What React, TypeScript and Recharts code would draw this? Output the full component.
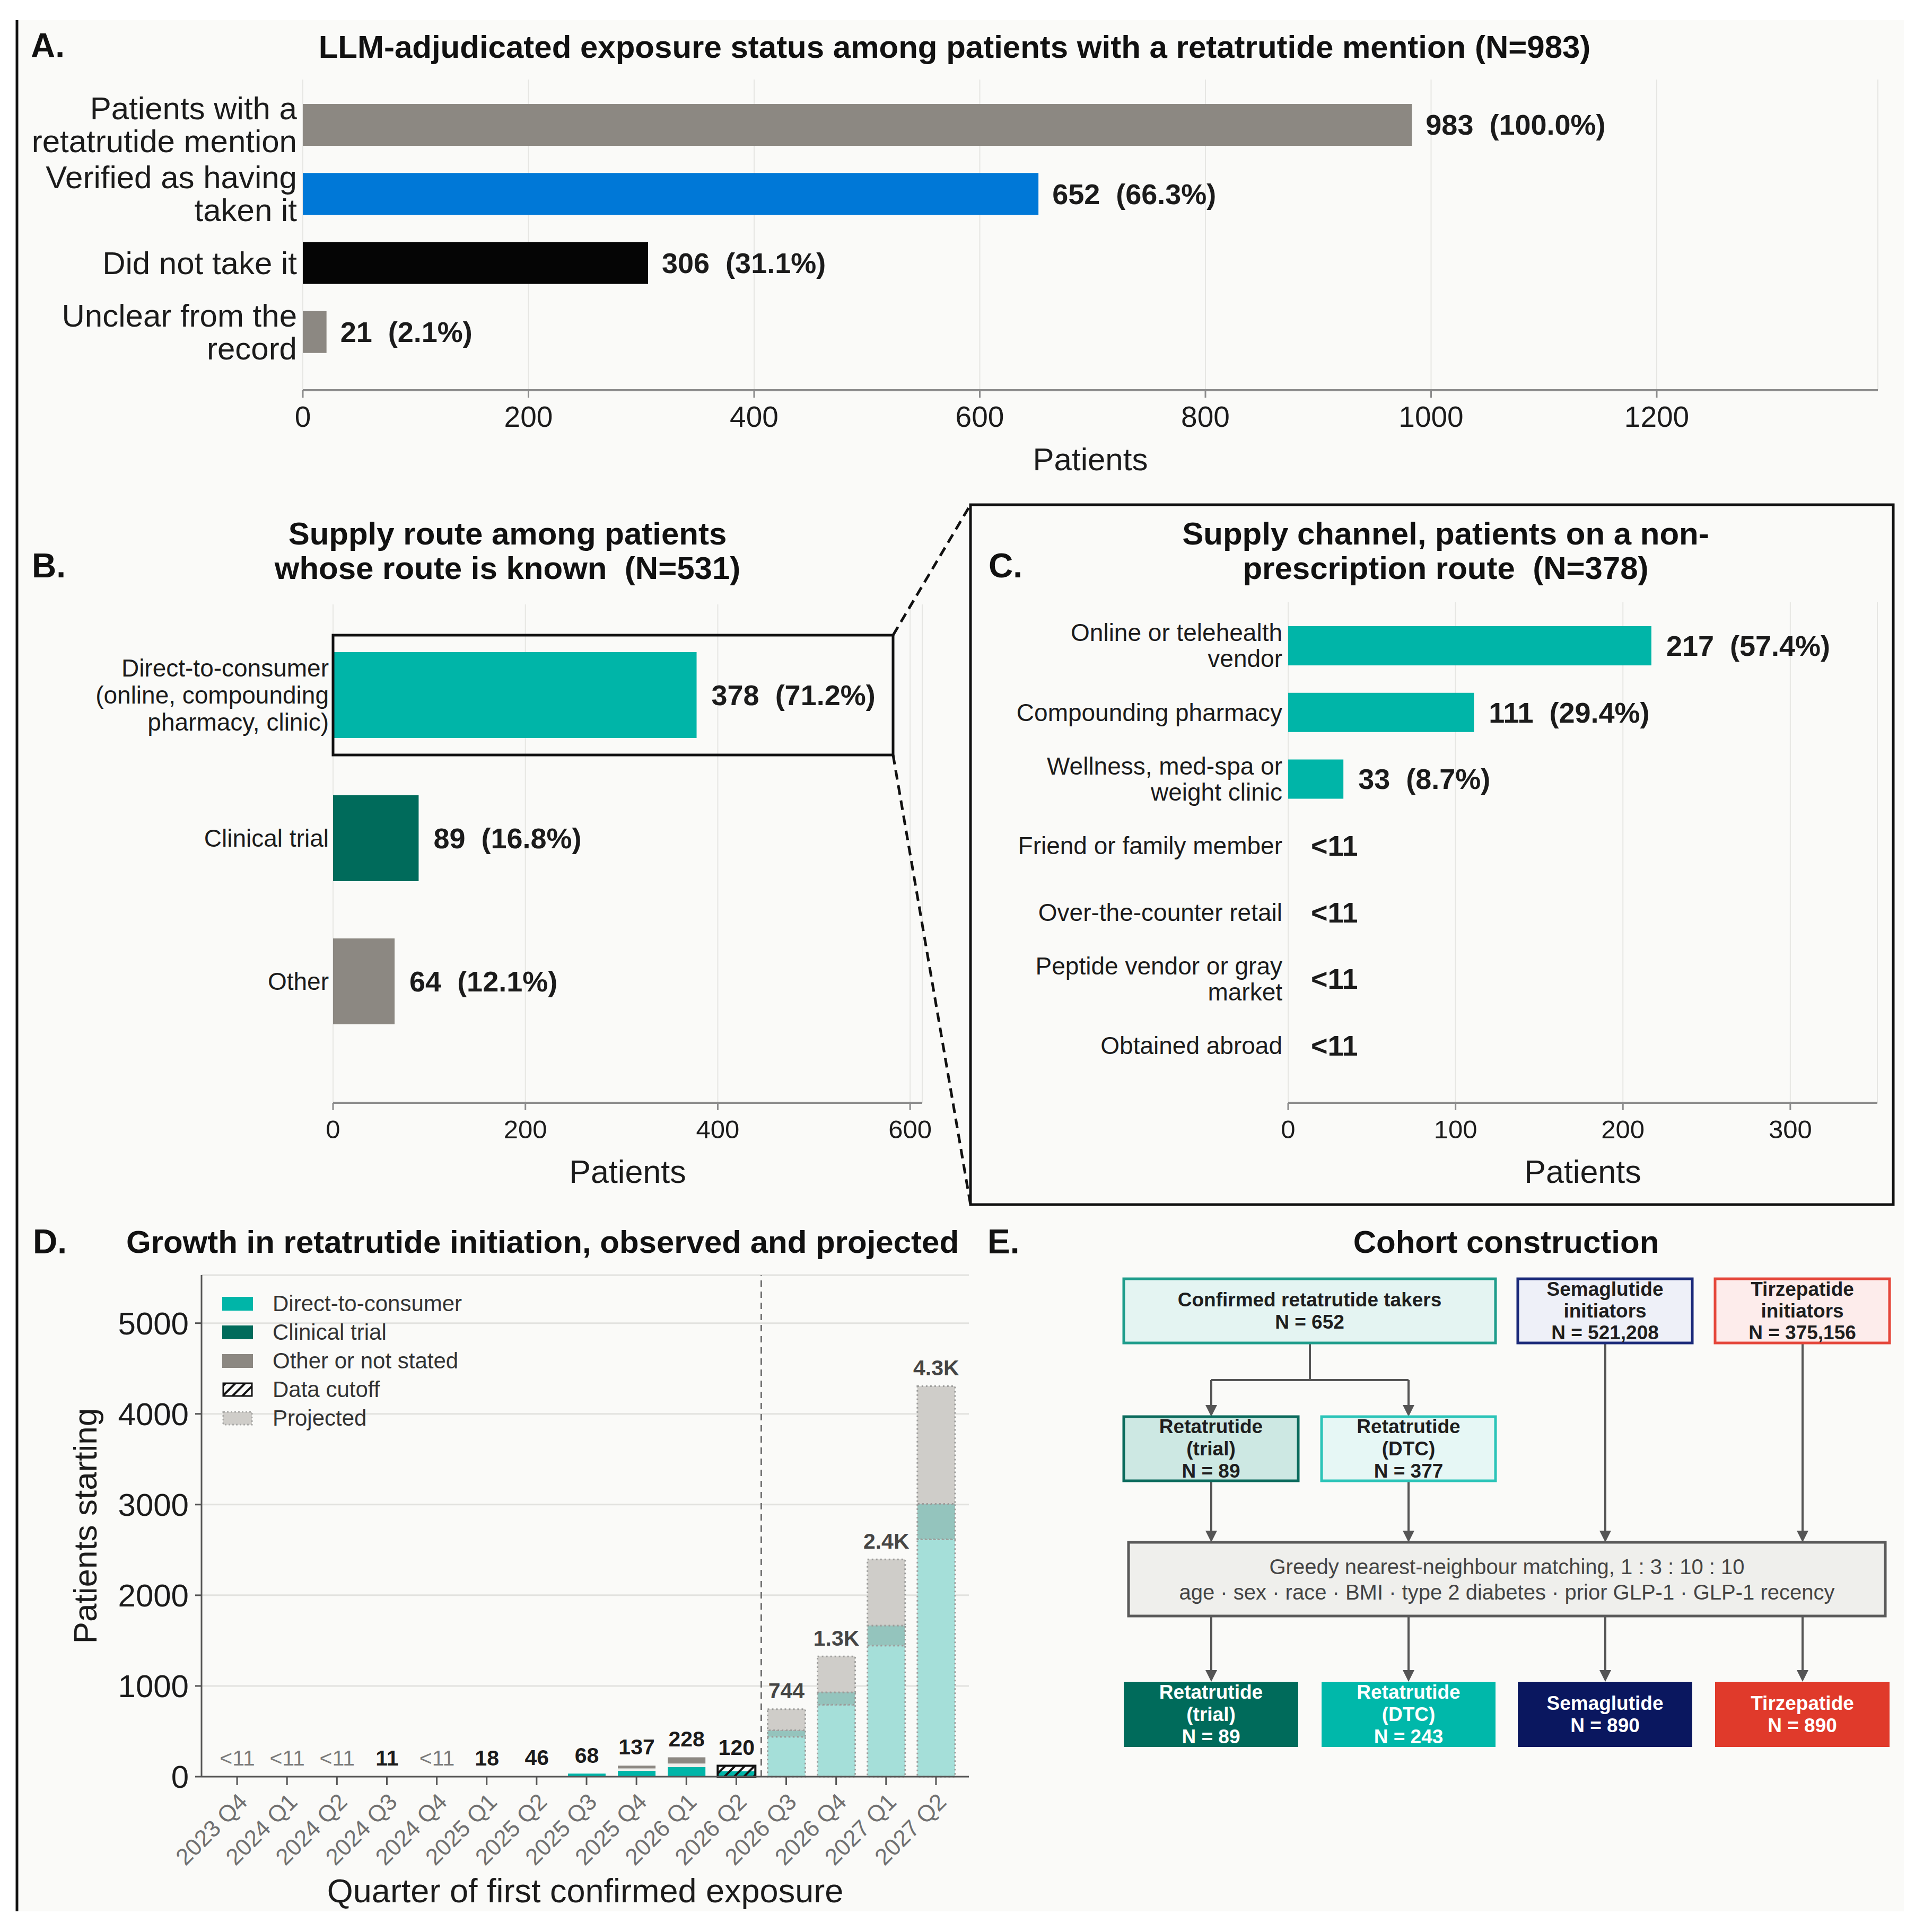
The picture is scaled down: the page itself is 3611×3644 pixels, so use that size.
import React from "react";
import { BarChart, Bar, XAxis, YAxis, CartesianGrid, LabelList, Cell, ReferenceLine, Legend } from "recharts";

const FONT = '"Liberation Sans", Arial, Helvetica, sans-serif';
const INK = "#1b1b1b";
const BG = "#fafaf8";
const TEAL = "#00b5a8";
const DARK_TEAL = "#006b5b";
const STONE = "#8c8882";
const BLUE = "#0078d7";
const PALE_TEAL = "#a5dfd9";
const PALE_DARK = "#94c4bd";
const PALE_STONE = "#cfcdc9";
const AXIS = "#8c8c8c";
const GRID = "#e6e6e3";

// A. exposure status
const exposureCats = ["Patients with a\nretatrutide mention", "Verified as having\ntaken it", "Did not take it", "Unclear from the\nrecord"];
const exposureCounts = [983, 652, 306, 21];
const exposurePcts = ["100.0%", "66.3%", "31.1%", "2.1%"];
const exposureTicks = [0, 200, 400, 600, 800, 1000, 1200];
const exposureColors = [STONE, BLUE, "#050505", STONE];

// B. supply route
const routeCats = ["Direct-to-consumer\n(online, compounding\npharmacy, clinic)", "Clinical trial", "Other"];
const routeCounts = [378, 89, 64];
const routePcts = ["71.2%", "16.8%", "12.1%"];
const routeTicks = [0, 200, 400, 600];
const routeColors = [TEAL, DARK_TEAL, STONE];

// C. supply channel (null = suppressed, <11)
const channelCats = [
  "Online or telehealth\nvendor",
  "Compounding pharmacy",
  "Wellness, med-spa or\nweight clinic",
  "Friend or family member",
  "Over-the-counter retail",
  "Peptide vendor or gray\nmarket",
  "Obtained abroad",
];
const channelCounts: (number | null)[] = [217, 111, 33, null, null, null, null];
const channelPcts: (string | null)[] = ["57.4%", "29.4%", "8.7%", null, null, null, null];
const channelTicks = [0, 100, 200, 300];

// D. growth by quarter
const quarters = ["2023 Q4", "2024 Q1", "2024 Q2", "2024 Q3", "2024 Q4", "2025 Q1", "2025 Q2", "2025 Q3", "2025 Q4", "2026 Q1", "2026 Q2", "2026 Q3", "2026 Q4", "2027 Q1", "2027 Q2"];
const dtcStarts = [0, 0, 0, 0, 0, 1, 5, 33, 64, 105, 0, 440, 793, 1445, 2617];
const trialStarts = [0, 0, 0, 0, 0, 0, 0, 0, 0, 0, 0, 72, 136, 221, 390];
const unstatedStarts = [0, 0, 0, 0, 0, 0, 0, 0, 27, 40, 0, 0, 0, 0, 0];
const otherStarts = [0, 0, 0, 0, 0, 0, 0, 0, 31, 69, 0, 232, 397, 729, 1298];
const cutoffStarts = [0, 0, 0, 0, 0, 0, 0, 0, 0, 0, 120, 0, 0, 0, 0];
const cutoffDtcStarts = [0, 0, 0, 0, 0, 0, 0, 0, 0, 0, 60, 0, 0, 0, 0];
const projectedFlags = [false, false, false, false, false, false, false, false, false, false, false, true, true, true, true];
const totalLabels = ["<11", "<11", "<11", "11", "<11", "18", "46", "68", "137", "228", "120", "744", "1.3K", "2.4K", "4.3K"];
const growthTicks = [0, 1000, 2000, 3000, 4000, 5000];
const legendNames = ["Direct-to-consumer", "Clinical trial", "Other or not stated", "Data cutoff", "Projected"];

// E. cohort construction
const sourceBoxes = [["Confirmed retatrutide takers", "N = 652"], ["Semaglutide", "initiators", "N = 521,208"], ["Tirzepatide", "initiators", "N = 375,156"]];
const armBoxes = [["Retatrutide", "(trial)", "N = 89"], ["Retatrutide", "(DTC)", "N = 377"]];
const matchLines = ["Greedy nearest-neighbour matching, 1 : 3 : 10 : 10", "age · sex · race · BMI · type 2 diabetes · prior GLP-1 · GLP-1 recency"];
const matchedBoxes = [["Retatrutide", "(trial)", "N = 89"], ["Retatrutide", "(DTC)", "N = 243"], ["Semaglutide", "N = 890"], ["Tirzepatide", "N = 890"]];

const exposureRows = exposureCats.map((cat, i) => ({ cat, n: exposureCounts[i], label: `${exposureCounts[i]}  (${exposurePcts[i]})` }));
const routeRows = routeCats.map((cat, i) => ({ cat, n: routeCounts[i], label: `${routeCounts[i]}  (${routePcts[i]})` }));
const channelRows = channelCats.map((cat, i) => ({
  cat,
  n: channelCounts[i] ?? 0,
  hidden: channelCounts[i] == null,
  label: channelCounts[i] == null ? "<11" : `${channelCounts[i]}  (${channelPcts[i]})`,
}));
const growthRows = quarters.map((q, i) => ({
  q,
  dtc: dtcStarts[i],
  trial: trialStarts[i],
  unstated: unstatedStarts[i],
  other: otherStarts[i],
  cutoff: cutoffStarts[i],
  cutoffDtc: cutoffDtcStarts[i],
  projected: projectedFlags[i],
  tag: (projectedFlags[i] ? "p|" : "o|") + totalLabels[i],
}));

function WrapTick(props: any) {
  const { x, y, payload, size, lh } = props;
  const lines = String(payload.value).split("\n");
  const y0 = y - ((lines.length - 1) * lh) / 2;
  return (
    <text textAnchor="end" fontSize={size} fill={INK} fontFamily={FONT}>
      {lines.map((l, i) => (
        <tspan key={i} x={x} y={y0 + i * lh} dy="0.35em">{l}</tspan>
      ))}
    </text>
  );
}

const sideLabel = (size: number, gap: number, zeroGap: number) => (props: any) => {
  const vb = props.viewBox || props;
  const text = String(props.value);
  const g = text.startsWith("<") ? zeroGap : gap;
  return (
    <text x={vb.x + vb.width + g} y={vb.y + vb.height / 2} dy="0.35em" fontSize={size} fontWeight={700} fill={INK} fontFamily={FONT} style={{ whiteSpace: "pre" }}>
      {text}
    </text>
  );
};

function topLabel(props: any) {
  const vb = props.viewBox || props;
  const [kind, text] = String(props.value).split("|");
  const hidden = text.startsWith("<");
  return (
    <text x={vb.x + vb.width / 2} y={vb.y - 35} dy="0.35em" textAnchor="middle" fontSize={41} fontWeight={hidden ? 400 : 700} fill={hidden ? "#7a7a7a" : kind === "p" ? "#454545" : INK} fontFamily={FONT}>
      {text}
    </text>
  );
}

function QuarterTick(props: any) {
  const { x, y, payload } = props;
  return (
    <text x={x} y={y} dy="0.71em" textAnchor="end" fontSize={44} fill="#707070" fontFamily={FONT} transform={`rotate(-45, ${x}, ${y})`}>
      {payload.value}
    </text>
  );
}

function CutoffShape(p: any) {
  const { x, y, width, height, payload } = p;
  if (!height || height <= 0) return null;
  const h2 = (height * payload.cutoffDtc) / payload.cutoff;
  return (
    <g>
      <rect x={x} y={y} width={width} height={height} fill={BG} />
      <rect x={x} y={y + height - h2} width={width} height={h2} fill={TEAL} />
      <rect x={x} y={y} width={width} height={height} fill="url(#hatch)" stroke="#111" strokeWidth={4} />
    </g>
  );
}

const seg = (projected: boolean, solid: string, pale: string) =>
  projected
    ? { fill: pale, stroke: "#9c9c9a", strokeWidth: 3, strokeDasharray: "3 5" }
    : { fill: solid, stroke: "none" };

function GrowthLegend() {
  const swatch = (i: number) => {
    if (i === 3) return <rect x={2} y={2} width={54} height={24} fill="url(#hatch)" stroke="#111" strokeWidth={3} />;
    if (i === 4) return <rect x={2} y={2} width={54} height={24} fill={PALE_STONE} stroke="#a8a8a6" strokeWidth={3} strokeDasharray="3 4" />;
    return <rect x={0} y={1} width={58} height={26} fill={[TEAL, DARK_TEAL, STONE][i]} />;
  };
  return (
    <div style={{ display: "flex", flexDirection: "column", fontFamily: FONT }}>
      {legendNames.map((name, i) => (
        <div key={name} style={{ height: 54, display: "flex", alignItems: "center" }}>
          <svg width={58} height={28}>{swatch(i)}</svg>
          <span style={{ marginLeft: 37, fontSize: 42, color: "#333" }}>{name}</span>
        </div>
      ))}
    </div>
  );
}

function FlowBox({ x, y, w, h, fill, stroke, lines, color, size, gap, weight }: any) {
  const cx = x + w / 2;
  const cy = y + h / 2;
  return (
    <g>
      <rect x={x} y={y} width={w} height={h} fill={fill} stroke={stroke || "none"} strokeWidth={stroke ? 5 : 0} />
      <text textAnchor="middle" fontSize={size} fontWeight={weight} fill={color} fontFamily={FONT}>
        {lines.map((l: string, i: number) => (
          <tspan key={i} x={cx} y={cy + (i - (lines.length - 1) / 2) * gap} dy="0.35em">{l}</tspan>
        ))}
      </text>
    </g>
  );
}

function Arrow({ x, y1, y2 }: any) {
  return (
    <g>
      <line x1={x} y1={y1} x2={x} y2={y2 - 20} stroke="#555" strokeWidth={4} />
      <polygon points={`${x - 11},${y2 - 22} ${x + 11},${y2 - 22} ${x},${y2}`} fill="#555" />
    </g>
  );
}

function Overlay() {
  const cols = [2284, 2656, 3027, 3399];
  const colX = [2119, 2492, 2862, 3234];
  const colW = [329, 328, 329, 329];
  const darkFills = [DARK_TEAL, "#00b8aa", "#0a175f", "#e03a2b"];
  const title = { fontSize: 60, fontWeight: 700, fill: "#111", fontFamily: FONT, textAnchor: "middle" as const };
  const letter = { fontSize: 64, fontWeight: 700, fill: "#111", fontFamily: FONT };
  return (
    <svg width={3611} height={3644} style={{ position: "absolute", left: 0, top: 0, pointerEvents: "none" }}>
      <line x1={32} y1={38} x2={32} y2={3605} stroke="#111" strokeWidth={5} />
      {/* titles */}
      <text x={58} y={86} dy="0.35em" {...letter}>A.</text>
      <text x={1800} y={88} dy="0.35em" {...title}>LLM-adjudicated exposure status among patients with a retatrutide mention (N=983)</text>
      <text x={60} y={1067} dy="0.35em" {...letter}>B.</text>
      <text x={957} y={1006} dy="0.35em" {...title}>Supply route among patients</text>
      <text x={957} y={1071} dy="0.35em" {...title} style={{ whiteSpace: "pre" }}>whose route is known  (N=531)</text>
      <text x={1864} y={1067} dy="0.35em" {...letter}>C.</text>
      <text x={2726} y={1006} dy="0.35em" {...title}>Supply channel, patients on a non-</text>
      <text x={2726} y={1071} dy="0.35em" {...title} style={{ whiteSpace: "pre" }}>prescription route  (N=378)</text>
      <text x={62} y={2342} dy="0.35em" {...letter}>D.</text>
      <text x={1023} y={2342} dy="0.35em" {...title}>Growth in retatrutide initiation, observed and projected</text>
      <text x={1862} y={2342} dy="0.35em" {...letter}>E.</text>
      <text x={2840} y={2342} dy="0.35em" {...title}>Cohort construction</text>
      {/* B highlight, zoom lines, C frame */}
      <rect x={628} y={1198} width={1056} height={226} fill="none" stroke="#111" strokeWidth={5} />
      <line x1={1684} y1={1198} x2={1830} y2={952} stroke="#111" strokeWidth={5} strokeDasharray="18 11" />
      <line x1={1684} y1={1424} x2={1830} y2={2272} stroke="#111" strokeWidth={5} strokeDasharray="18 11" />
      <rect x={1830} y={952} width={1740} height={1320} fill="none" stroke="#111" strokeWidth={5} />
      {/* E flowchart */}
      <line x1={2470} y1={2533} x2={2470} y2={2603} stroke="#555" strokeWidth={4} />
      <line x1={cols[0]} y1={2603} x2={cols[1]} y2={2603} stroke="#555" strokeWidth={4} />
      <Arrow x={cols[0]} y1={2603} y2={2672} />
      <Arrow x={cols[1]} y1={2603} y2={2672} />
      <Arrow x={cols[0]} y1={2793} y2={2909} />
      <Arrow x={cols[1]} y1={2793} y2={2909} />
      <Arrow x={cols[2]} y1={2533} y2={2909} />
      <Arrow x={cols[3]} y1={2533} y2={2909} />
      {cols.map((c) => <Arrow key={c} x={c} y1={3048} y2={3172} />)}
      <FlowBox x={2119} y={2412} w={701} h={121} fill="#e4f4f2" stroke="#1f9d8c" lines={sourceBoxes[0]} color="#1e1e1e" size={37} gap={42} weight={700} />
      <FlowBox x={2862} y={2412} w={329} h={121} fill="#eef0f8" stroke="#1b2a7a" lines={sourceBoxes[1]} color="#1e1e1e" size={37} gap={41} weight={700} />
      <FlowBox x={3234} y={2412} w={329} h={121} fill="#fdeceb" stroke="#e5473b" lines={sourceBoxes[2]} color="#1e1e1e" size={37} gap={41} weight={700} />
      <FlowBox x={2119} y={2672} w={329} h={121} fill="#cde8e3" stroke="#0b6b5d" lines={armBoxes[0]} color="#1e1e1e" size={37} gap={42} weight={700} />
      <FlowBox x={2492} y={2672} w={328} h={121} fill="#e6f7f5" stroke="#2cc4b8" lines={armBoxes[1]} color="#1e1e1e" size={37} gap={42} weight={700} />
      <FlowBox x={2128} y={2909} w={1427} h={139} fill="#efefec" stroke="#5a5a5a" lines={matchLines} color="#444" size={40} gap={48} weight={400} />
      {matchedBoxes.map((lines, i) => (
        <FlowBox key={i} x={colX[i]} y={3172} w={colW[i]} h={123} fill={darkFills[i]} lines={lines} color="#fff" size={37} gap={42} weight={700} />
      ))}
    </svg>
  );
}

export default function App() {
  return (
    <div style={{ position: "absolute", left: 0, top: 0, width: 3611, height: 3644, background: "#fff", fontFamily: FONT, overflow: "hidden" }}>
      <svg width={0} height={0} style={{ position: "absolute" }}>
        <defs>
          <pattern id="hatch" patternUnits="userSpaceOnUse" width={13} height={13} patternTransform="rotate(45)">
            <line x1={6} y1={0} x2={6} y2={13} stroke="#111" strokeWidth={4} />
          </pattern>
        </defs>
      </svg>
      <div style={{ position: "absolute", left: 32, top: 38, width: 3558, height: 3567, background: BG }} />

      {/* A */}
      <div style={{ position: "absolute", left: 0, top: 0 }}>
        <BarChart width={3611} height={900} data={exposureRows} layout="vertical" margin={{ top: 150, right: 70, bottom: 0, left: 0 }} style={{ fontFamily: FONT }}>
          <CartesianGrid horizontal={false} stroke={GRID} strokeWidth={2} />
          <XAxis type="number" domain={[0, 1396]} ticks={exposureTicks} height={164} axisLine={{ stroke: AXIS, strokeWidth: 4 }} tickLine={{ stroke: AXIS, strokeWidth: 3 }} tickSize={14} tickMargin={16} tick={{ fontSize: 55, fill: INK }} label={{ value: "Patients", position: "insideBottom", offset: 13, fontSize: 60, fill: INK }} />
          <YAxis type="category" dataKey="cat" width={571} axisLine={false} tickLine={false} tickSize={0} tickMargin={11} interval={0} padding={{ top: 20, bottom: 45 }} tick={(p: any) => <WrapTick {...p} size={60} lh={62} />} />
          <Bar dataKey="n" barSize={79} isAnimationActive={false}>
            {exposureRows.map((_, i) => <Cell key={i} fill={exposureColors[i]} />)}
            <LabelList dataKey="label" content={sideLabel(54, 26, 26)} />
          </Bar>
        </BarChart>
      </div>

      {/* B */}
      <div style={{ position: "absolute", left: 0, top: 950 }}>
        <BarChart width={1800} height={1300} data={routeRows} layout="vertical" margin={{ top: 190, right: 61, bottom: 0, left: 0 }} style={{ fontFamily: FONT }}>
          <CartesianGrid horizontal={false} stroke={GRID} strokeWidth={2} />
          <XAxis type="number" domain={[0, 612.6]} ticks={routeTicks} height={170} axisLine={{ stroke: AXIS, strokeWidth: 4 }} tickLine={{ stroke: AXIS, strokeWidth: 3 }} tickSize={14} tickMargin={18} tick={{ fontSize: 49, fill: INK }} label={{ value: "Patients", position: "insideBottom", offset: 19, fontSize: 61, fill: INK }} />
          <YAxis type="category" dataKey="cat" width={628} axisLine={false} tickLine={false} tickSize={0} tickMargin={8} interval={0} padding={{ top: 36, bottom: 94 }} tick={(p: any) => <WrapTick {...p} size={46} lh={51} />} />
          <Bar dataKey="n" barSize={162} isAnimationActive={false}>
            {routeRows.map((_, i) => <Cell key={i} fill={routeColors[i]} />)}
            <LabelList dataKey="label" content={sideLabel(54, 28, 28)} />
          </Bar>
        </BarChart>
      </div>

      {/* C */}
      <div style={{ position: "absolute", left: 1830, top: 952 }}>
        <BarChart width={1740} height={1320} data={channelRows} layout="vertical" margin={{ top: 184, right: 30, bottom: 0, left: 0 }} style={{ fontFamily: FONT }}>
          <CartesianGrid horizontal={false} stroke={GRID} strokeWidth={2} />
          <XAxis type="number" domain={[0, 352]} ticks={channelTicks} height={192} axisLine={{ stroke: AXIS, strokeWidth: 4 }} tickLine={{ stroke: AXIS, strokeWidth: 3 }} tickSize={14} tickMargin={18} tick={{ fontSize: 49, fill: INK }} label={{ value: "Patients", position: "insideBottom", offset: 41, fontSize: 61, fill: INK }} />
          <YAxis type="category" dataKey="cat" width={599} axisLine={false} tickLine={false} tickSize={0} tickMargin={11} interval={0} padding={{ top: 19, bottom: 45 }} tick={(p: any) => <WrapTick {...p} size={46} lh={49} />} />
          <Bar dataKey="n" barSize={74} minPointSize={2} isAnimationActive={false}>
            {channelRows.map((r, i) => <Cell key={i} fill={r.hidden ? "transparent" : TEAL} />)}
            <LabelList dataKey="label" content={sideLabel(54, 28, 41)} />
          </Bar>
        </BarChart>
      </div>

      {/* D */}
      <div style={{ position: "absolute", left: 0, top: 2300 }}>
        <BarChart width={1860} height={1344} data={growthRows} margin={{ top: 105, right: 33, bottom: 0, left: 0 }} style={{ fontFamily: FONT }}>
          <CartesianGrid vertical={false} stroke="#e2e2df" strokeWidth={3} />
          <XAxis dataKey="q" type="category" interval={0} height={293} padding={{ left: 20, right: 15 }} axisLine={{ stroke: "#555", strokeWidth: 3 }} tickLine={{ stroke: "#555", strokeWidth: 3 }} tickSize={16} tickMargin={12} tick={(p: any) => <QuarterTick {...p} />} label={{ value: "Quarter of first confirmed exposure", position: "insideBottom", offset: 56, fontSize: 63, fill: INK }} />
          <YAxis type="number" domain={[0, 5530]} ticks={growthTicks} width={380} axisLine={{ stroke: "#555", strokeWidth: 3 }} tickLine={{ stroke: "#555", strokeWidth: 3 }} tickSize={12} tickMargin={12} tick={{ fontSize: 60, fill: INK }} label={{ value: "Patients starting", angle: -90, position: "insideLeft", offset: 160, fontSize: 62, fill: INK, style: { textAnchor: "middle" } }} />
          <ReferenceLine x="2026 Q3" position="start" stroke="#707070" strokeWidth={3} strokeDasharray="12 9" />
          <Legend layout="vertical" align="center" verticalAlign="middle" wrapperStyle={{ left: 419, top: 132, width: 640, height: 280 }} content={() => <GrowthLegend />} />
          <Bar dataKey="dtc" stackId="s" barSize={71} isAnimationActive={false}>
            {growthRows.map((r, i) => <Cell key={i} {...seg(r.projected, TEAL, PALE_TEAL)} />)}
          </Bar>
          <Bar dataKey="trial" stackId="s" barSize={71} isAnimationActive={false}>
            {growthRows.map((r, i) => <Cell key={i} {...seg(r.projected, DARK_TEAL, PALE_DARK)} />)}
          </Bar>
          <Bar dataKey="unstated" stackId="s" barSize={71} fill="#efefec" isAnimationActive={false} />
          <Bar dataKey="other" stackId="s" barSize={71} isAnimationActive={false}>
            {growthRows.map((r, i) => <Cell key={i} {...seg(r.projected, STONE, PALE_STONE)} />)}
          </Bar>
          <Bar dataKey="cutoff" stackId="s" barSize={71} isAnimationActive={false} shape={(p: any) => <CutoffShape {...p} />}>
            <LabelList dataKey="tag" content={topLabel} />
          </Bar>
        </BarChart>
      </div>

      <Overlay />
    </div>
  );
}
